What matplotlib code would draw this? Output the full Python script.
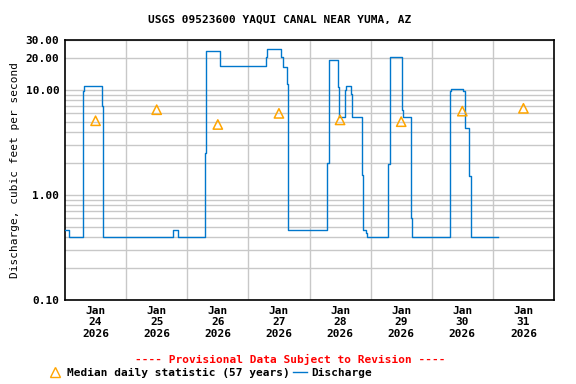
import matplotlib
matplotlib.use("Agg")
import matplotlib.pyplot as plt
from matplotlib.lines import Line2D
import numpy as np

# hours since Jan 24 2026 00:00 and discharge (cfs), held until next point
hours = [0, 1.75, 7.0, 7.5, 14.5, 15.0, 42.5, 44.25, 55.0, 55.5, 61.0,
         79.0, 79.25, 85.0, 85.5, 87.25, 87.5, 103.0, 103.5, 103.75,
         107.25, 107.5, 110.0, 110.5, 112.25, 112.75, 116.75, 117.0,
         118.0, 118.5, 127.0, 127.5, 127.75, 132.5, 132.75, 135.75,
         136.25, 151.25, 151.5, 156.25, 157.0, 158.75, 159.25, 159.5, 170.0]
discharge = [0.46, 0.40, 9.9, 10.9, 7.0, 0.40, 0.46, 0.40, 2.5, 23.7, 17.0,
             20.6, 24.8, 20.6, 16.6, 11.5, 0.46, 2.03, 13.2, 19.4,
             10.7, 5.6, 10.0, 10.9, 9.2, 5.6, 1.56, 0.46,
             0.435, 0.40, 1.97, 14.6, 20.8, 6.4, 5.6, 0.61,
             0.40, 9.7, 10.2, 9.9, 4.4, 1.52, 0.46, 0.40, 0.40]

days = ["24", "25", "26", "27", "28", "29", "30", "31"]
median = [5.1, 6.5, 4.7, 6.0, 5.2, 5.0, 6.3, 6.7]

yticks = [0.1, 1, 10, 20, 30]
ylabels = ["0.10", "1.00", "10.00", "20.00", "30.00"]

plt.rcParams['font.family'] = 'DejaVu Sans Mono'
plt.rcParams['font.weight'] = 'bold'

fig = plt.figure(figsize=(5.76, 3.84), dpi=100)
ax = fig.add_axes([65 / 576, 84 / 384, 489 / 576, 260 / 384])

ax.plot(hours, discharge, drawstyle='steps-post', color='#0077cc', lw=1.0, zorder=3)
mid = [12 + 24 * i for i in range(len(days))]
ax.scatter(mid, median, marker='^', s=45, facecolors='none',
           edgecolors='#ffa500', linewidths=1.1, zorder=4)

ax.set_yscale('log')
ax.set_ylim(0.1, 30)
ax.set_xlim(0, 192)
ax.set_yticks(yticks)
ax.set_yticklabels(ylabels)
ax.set_yticks([m * 10.0 ** e for e in (-1, 0, 1) for m in range(2, 10)
               if m * 10.0 ** e < 30], minor=True)
ax.yaxis.set_minor_formatter(plt.NullFormatter())
ax.set_xticks(mid)
ax.set_xticklabels(["Jan\n%s\n2026" % d for d in days])
ax.set_xticks([24 * i for i in range(1, 8)], minor=True)
ax.tick_params(which='both', length=0, labelsize=8, pad=4)
ax.grid(which='both', axis='y', color='#c8c8c8', lw=1)
ax.grid(which='minor', axis='x', color='#c8c8c8', lw=1)
ax.set_axisbelow(True)
for s in ax.spines.values():
    s.set_linewidth(1.2)

ax.set_ylabel("Discharge, cubic feet per second", fontsize=8)
fig.text(0.486, 1 - 20 / 384, "USGS 09523600 YAQUI CANAL NEAR YUMA, AZ",
         ha='center', va='center', fontsize=8)
fig.text(290 / 576, 1 - 359 / 384, "---- Provisional Data Subject to Revision ----",
         ha='center', va='center', fontsize=8, color='red')

h1 = Line2D([], [], marker='^', ls='none', markerfacecolor='none',
            markeredgecolor='#ffa500', markersize=7)
h2 = Line2D([], [], color='#0077cc', lw=1.0)
fig.legend([h1, h2], ["Median daily statistic (57 years)", "Discharge"],
           loc='center', bbox_to_anchor=(210 / 576, 1 - 373 / 384), ncol=2,
           frameon=False, fontsize=8, handlelength=1.3, handletextpad=0.4,
           columnspacing=0.3, borderpad=0)

fig.savefig("out.png", dpi=100)
